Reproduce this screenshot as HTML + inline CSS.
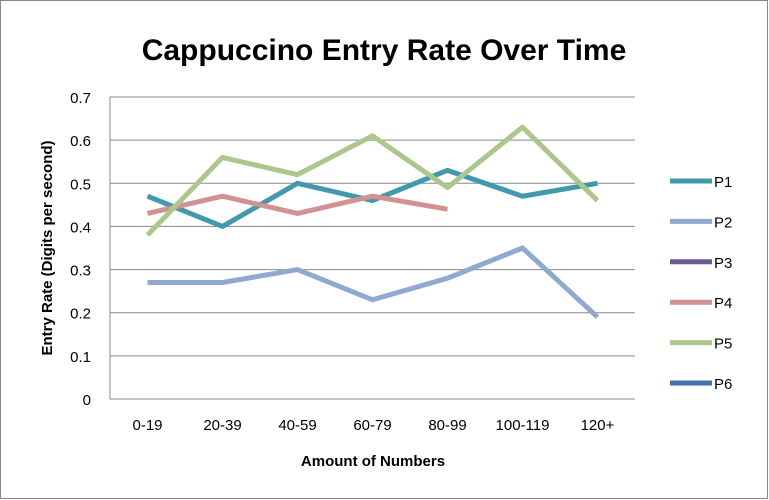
<!DOCTYPE html>
<html><head><meta charset="utf-8"><style>
html,body{margin:0;background:#fff;font-family:"Liberation Sans",sans-serif;overflow:hidden}
svg{display:block}
</style></head><body>
<svg id="c" width="769" height="500" xmlns="http://www.w3.org/2000/svg">
<rect x="0.5" y="0.5" width="767" height="498" fill="#fff" stroke="#888"/>
<text x="384" y="60" text-anchor="middle" font-size="30" font-weight="bold" fill="#000">Cappuccino Entry Rate Over Time</text>
<g id="grid"></g><g id="series"></g><g id="legend"></g>
<text x="373" y="466" text-anchor="middle" font-size="15" font-weight="bold">Amount of Numbers</text>
<text transform="translate(52,248) rotate(-90)" text-anchor="middle" font-size="15" font-weight="bold">Entry Rate (Digits per second)</text>
</svg>
<script>
const categories=["0-19","20-39","40-59","60-79","80-99","100-119","120+"];
const yTicks=[0,0.1,0.2,0.3,0.4,0.5,0.6,0.7];
const seriesNames=["P1","P2","P3","P4","P5","P6"];
const p1=[0.47,0.40,0.50,0.46,0.53,0.47,0.50];
const p2=[0.27,0.27,0.30,0.23,0.28,0.35,0.19];
const p3=[];
const p4=[0.43,0.47,0.43,0.47,0.44];
const p5=[0.38,0.56,0.52,0.61,0.49,0.63,0.46];
const p6=[];
const seriesData=[p1,p2,p3,p4,p5,p6];
const colors=["#4198af","#91a8d0","#71588f","#d09391","#abc78c","#4472a8"];
const NS="http://www.w3.org/2000/svg";
const L=110,R=635,T=97,B=399;
const x=i=>L+(i+0.5)*(R-L)/categories.length;
const y=v=>B-(v/0.7)*(B-T);
function mk(t,a,p){const e=document.createElementNS(NS,t);for(const k in a)e.setAttribute(k,a[k]);p.appendChild(e);return e;}
const g=document.getElementById('grid');
yTicks.forEach(v=>{
 const l=mk('line',{x1:L,x2:R,y1:y(v),y2:y(v),stroke:'#888','stroke-width':1},g);
 
 
 const t=mk('text',{x:L-19,y:y(v)+6,'text-anchor':'end','font-size':15},g);t.textContent=String(v);
 
 
});
mk('line',{x1:L,x2:L,y1:T,y2:B,stroke:'#888'},g);
categories.forEach((c,i)=>{
 const t=mk('text',{x:x(i),y:430,'text-anchor':'middle','font-size':15},g);t.textContent=c;
 
 
});
const s=document.getElementById('series');
seriesData.forEach((d,k)=>{
 if(!d.length)return;
 const p=mk('polyline',{points:d.map((v,i)=>x(i)+','+y(v)).join(' '),fill:'none',stroke:colors[k],'stroke-width':5,'stroke-linejoin':'round'},s);
 
 
});
const lg=document.getElementById('legend');
seriesNames.forEach((n,k)=>{
 const yy=181+k*40.4;
 const l=mk('line',{x1:670,x2:712,y1:yy,y2:yy,stroke:colors[k],'stroke-width':5},lg);
 
 
 const t=mk('text',{x:714,y:yy+6,'font-size':15},lg);t.textContent=n;
 
 
});
</script>
</body></html>
